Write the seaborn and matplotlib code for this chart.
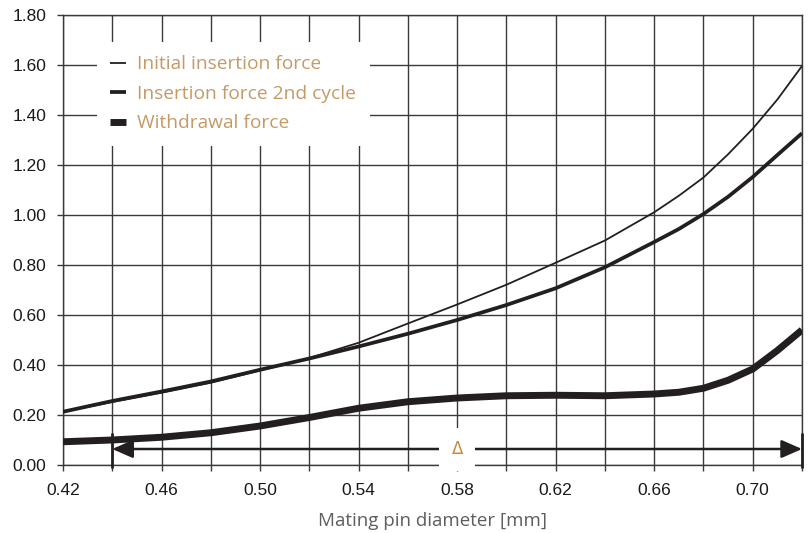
import numpy as np
import pandas as pd
import seaborn as sns
from matplotlib import pyplot as plt

# values
diameter = [0.42, 0.44, 0.46, 0.48, 0.50, 0.52, 0.54, 0.56, 0.58, 0.60, 0.62,
            0.64, 0.66, 0.67, 0.68, 0.69, 0.70, 0.71, 0.72]
initial_force = [0.213, 0.252, 0.289, 0.329, 0.378, 0.428, 0.489, 0.566, 0.642, 0.721, 0.809,
                 0.898, 1.011, 1.077, 1.150, 1.243, 1.345, 1.462, 1.596]
second_force = [0.213, 0.256, 0.294, 0.334, 0.381, 0.426, 0.474, 0.525, 0.580, 0.640, 0.707,
                0.791, 0.892, 0.944, 1.004, 1.073, 1.152, 1.240, 1.327]
withdrawal_force = [0.093, 0.100, 0.111, 0.129, 0.156, 0.190, 0.227, 0.253, 0.268, 0.277, 0.279,
                    0.277, 0.284, 0.291, 0.307, 0.339, 0.384, 0.458, 0.540]

series_names = ['Initial insertion force', 'Insertion force 2nd cycle', 'Withdrawal force']
x_ticks = [0.42, 0.44, 0.46, 0.48, 0.50, 0.52, 0.54, 0.56, 0.58, 0.60, 0.62, 0.64, 0.66, 0.68, 0.70, 0.72]
x_tick_labels = ['0.42', '', '0.46', '', '0.50', '', '0.54', '', '0.58', '', '0.62', '', '0.66', '', '0.70', '']
y_ticks = [0.0, 0.2, 0.4, 0.6, 0.8, 1.0, 1.2, 1.4, 1.6, 1.8]
delta_range = [0.44, 0.72]
delta_y = 0.064

df = pd.DataFrame({'d': diameter, series_names[0]: initial_force,
                   series_names[1]: second_force, series_names[2]: withdrawal_force})

sns.set_theme(style='white')
plt.rcParams['font.family'] = ['Liberation Sans', 'DejaVu Sans']

INK = '#231f20'
GRID = '#3a3a3a'
TAN = '#c49a66'
LABEL_FONT = ['Open Sans', 'DejaVu Sans']

fig = plt.figure(figsize=(8.11, 5.33), dpi=100)
ax = fig.add_axes([63 / 811, 1 - 465 / 533, 739 / 811, 450 / 533])

widths = [1.3, 2.7, 5.0]
for name, lw in zip(series_names, widths):
    sns.lineplot(data=df, x='d', y=name, ax=ax, color=INK, linewidth=lw,
                 label=name, solid_capstyle='butt', solid_joinstyle='round', zorder=3)

ax.set_xlim(0.42, 0.72); ax.set_ylim(0, 1.8)
ax.set_xticks(x_ticks); ax.set_xticklabels(x_tick_labels)
ax.set_yticks(y_ticks); ax.set_yticklabels([f'{v:.2f}' for v in y_ticks])
ax.grid(True, color=GRID, linewidth=1.0, zorder=0)
for s in ax.spines.values():
    s.set_color(GRID); s.set_linewidth(1.0)
ax.tick_params(axis='both', which='both', length=4, width=1.0, color=GRID,
               labelsize=12.5, labelcolor='#1a1a1a', direction='out',
               left=True, bottom=True)
ax.tick_params(axis='x', pad=9); ax.tick_params(axis='y', pad=8)
ax.set_xlabel('Mating pin diameter [mm]', fontsize=13.5, color='#5e5e5e',
              family=LABEL_FONT, labelpad=10)
ax.set_ylabel('')

# delta range arrow
ax.annotate('', xy=(delta_range[0], delta_y), xytext=(delta_range[1], delta_y),
            arrowprops=dict(arrowstyle='<|-|>,head_length=1.25,head_width=0.55',
                            color=INK, lw=1.8, shrinkA=0, shrinkB=0, mutation_scale=10),
            zorder=4)
ax.vlines(delta_range, -0.01, 0.128, color=INK, lw=2.0, clip_on=False, zorder=4)
ax.text(0.58, delta_y, 'Δ', ha='center', va='center', fontsize=12, color='#c98a3e',
        family=['DejaVu Sans'], zorder=6,
        bbox=dict(boxstyle='square,pad=0.75', fc='white', ec='none'))

leg = ax.legend(loc='upper left', bbox_to_anchor=(0.046, 0.94), borderaxespad=0,
                frameon=True, fancybox=False, framealpha=1, facecolor='white',
                edgecolor='none', handlelength=0.8, handletextpad=0.6,
                labelspacing=0.6, borderpad=0.7,
                prop={'family': LABEL_FONT, 'size': 13.8})
for t in leg.get_texts():
    t.set_color(TAN)
leg.set_zorder(5)

plt.savefig('out.png', dpi=100)
plt.close()
